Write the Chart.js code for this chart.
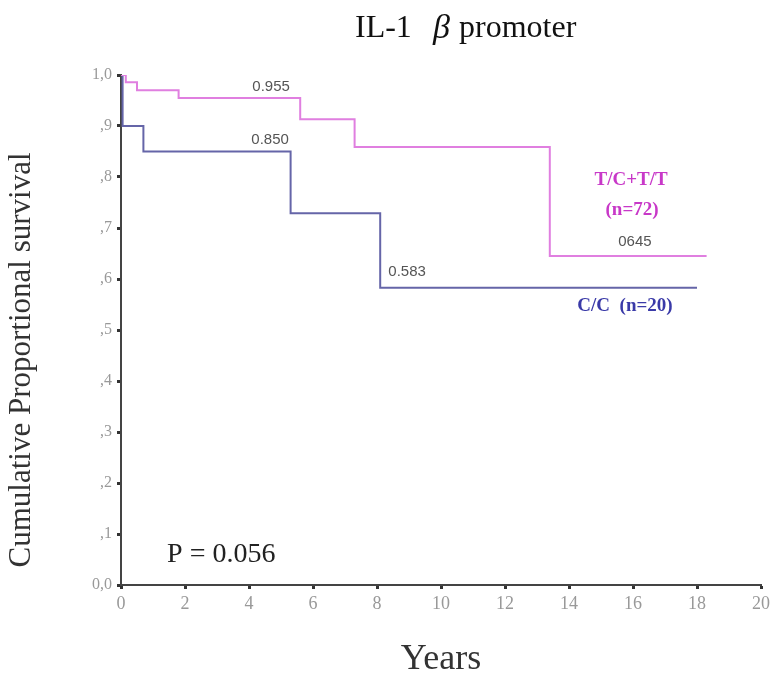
<!DOCTYPE html>
<html>
<head>
<meta charset="utf-8">
<script src="https://cdn.jsdelivr.net/npm/chart.js@4.4.1/dist/chart.umd.min.js"></script>
<style>
  body { margin: 0; background: #fff; }
  #wrap { width: 777px; height: 686px; }
</style>
</head>
<body>
<div id="wrap"><canvas id="kmChart" width="777" height="686"></canvas></div>
<script>
// --- DATA ---
// Kaplan-Meier steps: time (years) and survival after each event
const tcYears = [0, 0.15, 0.5, 1.8, 5.6, 7.3, 13.4, 18.3];
const tcSurvival = [1.0, 0.986, 0.970, 0.955, 0.913, 0.859, 0.645, 0.645];
const ccYears = [0, 0.05, 0.7, 5.3, 8.1, 18.0];
const ccSurvival = [1.0, 0.9, 0.85, 0.729, 0.583, 0.583];

const xTicks = [0, 2, 4, 6, 8, 10, 12, 14, 16, 18, 20];
const yTickLabels = ['0,0', ',1', ',2', ',3', ',4', ',5', ',6', ',7', ',8', ',9', '1,0'];

// text notes placed in data coordinates
const noteText = ['0.955', '0.850', '0.583', '0645', 'T/C+T/T', '(n=72)', 'C/C  (n=20)', 'P = 0.056'];
const noteX = [4.69, 4.66, 8.94, 16.06, 15.94, 15.97, 15.75, 1.44];
const noteY = [0.976, 0.873, 0.614, 0.673, 0.794, 0.735, 0.547, 0.059];

const PINK = '#e07fe0';
const BLUE = '#6565a8';

function toPoints(xs, ys) {
    return xs.map((x, i) => ({ x: x, y: ys[i] }));
}

// --- PLUGINS ---
// main title with italic beta, and the rotated y title
const titlePlugin = {
    id: 'kmTitle',
    afterDraw(chart) {
        const ctx = chart.ctx;
        ctx.save();
        ctx.fillStyle = '#111';
        ctx.textBaseline = 'middle';
        ctx.textAlign = 'left';
        ctx.font = '32px "Liberation Serif"';
        ctx.fillText('IL-1', 355, 29);
        ctx.font = 'italic 34px "Liberation Serif"';
        ctx.fillText('\u03b2', 433, 29);
        ctx.font = '32px "Liberation Serif"';
        ctx.fillText('promoter', 459, 29);

        // y axis title
        ctx.translate(22, 360);
        ctx.rotate(-Math.PI / 2);
        ctx.textAlign = 'center';
        ctx.fillStyle = '#333';
        ctx.font = '31px "Liberation Serif"';
        ctx.fillText('Cumulative Proportional survival', 0, 0);
        ctx.restore();
    }
};

const notesPlugin = {
    id: 'kmNotes',
    afterDatasetsDraw(chart) {
        const ctx = chart.ctx;
        const xs = chart.scales.x, ys = chart.scales.y;
        ctx.save();
        ctx.textBaseline = 'middle';
        noteText.forEach((txt, i) => {
            const px = xs.getPixelForValue(noteX[i]);
            const py = ys.getPixelForValue(noteY[i]);
            ctx.textAlign = 'center';
            if (i < 4) {
                ctx.font = '15px "Liberation Sans"';
                ctx.fillStyle = '#555';
            } else if (i < 6) {
                ctx.font = 'bold 19px "Liberation Serif"';
                ctx.fillStyle = '#c838c8';
            } else if (i === 6) {
                ctx.font = 'bold 19px "Liberation Serif"';
                ctx.fillStyle = '#3a3aa8';
            } else {
                ctx.font = '28px "Liberation Serif"';
                ctx.fillStyle = '#222';
                ctx.textAlign = 'left';
            }
            ctx.fillText(txt, px, py);
        });
        ctx.restore();
    }
};

// --- CHART ---
const ctx = document.getElementById('kmChart').getContext('2d');
new Chart(ctx, {
    type: 'line',
    data: {
        datasets: [
            {
                label: 'T/C+T/T (n=72)',
                data: toPoints(tcYears, tcSurvival),
                borderColor: PINK,
                borderWidth: 2,
                stepped: true,
                pointRadius: 0,
                fill: false
            },
            {
                label: 'C/C (n=20)',
                data: toPoints(ccYears, ccSurvival),
                borderColor: BLUE,
                borderWidth: 2,
                stepped: true,
                pointRadius: 0,
                fill: false
            }
        ]
    },
    options: {
        responsive: false,
        animation: false,
        layout: { padding: { top: 75, right: 16, left: 0, bottom: 0 } },
        plugins: {
            legend: { display: false },
            tooltip: { enabled: false }
        },
        scales: {
            x: {
                type: 'linear',
                min: 0,
                max: 20,
                afterFit: s => { s.height = 101; },
                afterBuildTicks: s => { s.ticks = xTicks.map(v => ({ value: v })); },
                ticks: {
                    color: '#999',
                    padding: 4,
                    font: { family: 'Liberation Serif', size: 18 },
                    maxRotation: 0
                },
                grid: { drawOnChartArea: false, tickLength: 4, tickWidth: 3, tickColor: '#333' },
                border: { color: '#444', width: 2 },
                title: {
                    display: true,
                    text: 'Years',
                    color: '#333',
                    font: { family: 'Liberation Serif', size: 36 },
                    padding: { top: 0, bottom: 5 }
                }
            },
            y: {
                min: 0,
                max: 1,
                afterFit: s => { s.width = 121; },
                ticks: {
                    stepSize: 0.1,
                    color: '#999',
                    padding: 5,
                    font: { family: 'Liberation Serif', size: 16 },
                    callback: (v) => yTickLabels[Math.round(v * 10)]
                },
                grid: { drawOnChartArea: false, tickLength: 4, tickWidth: 3, tickColor: '#333' },
                border: { color: '#444', width: 2 }
            }
        }
    },
    plugins: [titlePlugin, notesPlugin]
});
</script>
</body>
</html>
